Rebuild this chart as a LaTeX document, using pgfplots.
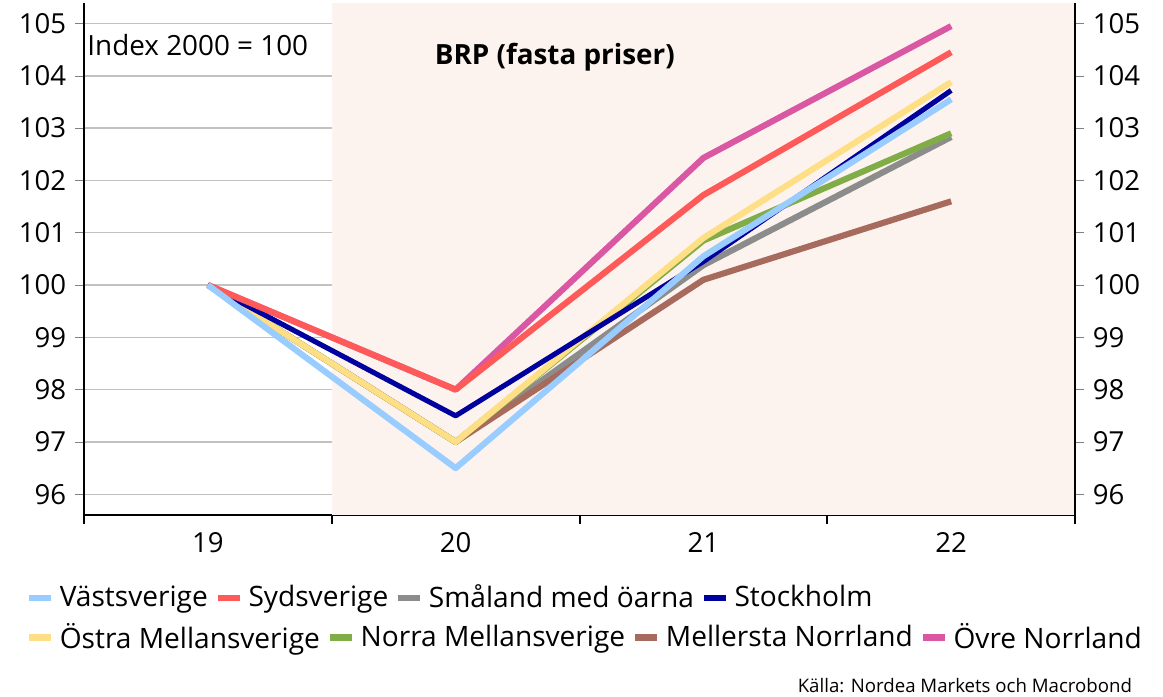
\documentclass[border=0pt]{standalone}
\usepackage{fontspec}
\setmainfont{Open Sans}
\usepackage{pgfplots}
\pgfplotsset{compat=1.18}

\definecolor{vast}{HTML}{99CCFF}
\definecolor{syd}{HTML}{FF5A5A}
\definecolor{smal}{HTML}{8C8C8C}
\definecolor{sthlm}{HTML}{00009E}
\definecolor{ostra}{HTML}{FFDF85}
\definecolor{norra}{HTML}{80AD47}
\definecolor{mell}{HTML}{A66B5C}
\definecolor{ovre}{HTML}{D957A3}
\definecolor{shade}{HTML}{FDF3EE}
\definecolor{gridc}{HTML}{C4C0BE}

\pgfplotsset{
  base/.style={
    scale only axis, width=13.64cm, height=7.045cm,
    xmin=18.5, xmax=22.5, ymin=95.605, ymax=105.39,
    ytick={96,...,105},
    tick align=outside, major tick length=0.12cm,
    /pgf/number format/assume math mode=true,
    tick label style={font=\fontsize{10.8}{13}\selectfont},
    axis line style={line width=0.8pt},
    legend columns=-1,
    legend style={draw=none, fill=none, inner sep=0pt,
      font=\fontsize{11}{13}\selectfont,
      /tikz/every even column/.append style={column sep=0.5pt}},
    legend cell align=left,
    legend image code/.code={\draw[##1, line width=2.6pt] (0cm,0cm) -- (0.31cm,0cm);},
  },
  ser/.style={line width=2.4pt, line join=round, forget plot},
}

\begin{document}
\begin{tikzpicture}
\begin{axis}[base,
  axis x line*=bottom, axis y line*=left,
  xtick={19,20,21,22}, xticklabels={19,20,21,22},
  xtick style={draw=none},
  minor xtick={18.5,19.5,20.5,21.5,22.5},
  minor tick length=0.12cm,
  minor x tick style={draw=black, line width=0.8pt},
  ymajorgrids, grid style={gridc, line width=0.6pt},
  legend style={at={(-0.0595,-0.162)}, anchor=west},
]
\addplot[fill=shade, draw=none, forget plot] coordinates {(19.5,95.605) (22.5,95.605) (22.5,105.39) (19.5,105.39)} \closedcycle;
\addplot[ser, ovre]  coordinates {(19,100) (20,98.0) (21,102.43) (22,104.95)};
\addplot[ser, smal]  coordinates {(19,100) (20,97.0) (21,100.38) (22,102.83)};
\addplot[ser, mell]  coordinates {(19,100) (20,97.0) (21,100.10) (22,101.60)};
\addplot[ser, norra] coordinates {(19,100) (20,97.0) (21,100.85) (22,102.90)};
\addplot[ser, ostra] coordinates {(19,100) (20,97.0) (21,100.90) (22,103.88)};
\addplot[ser, sthlm, line width=2.0pt] coordinates {(19,100) (20,97.5) (21,100.45) (22,103.72)};
\addplot[ser, syd]   coordinates {(19,100) (20,98.0) (21,101.72) (22,104.45)};
\addplot[ser, vast]  coordinates {(19,100) (20,96.5) (21,100.55) (22,103.55)};
\addlegendimage{vast}\addlegendentry{Västsverige}
\addlegendimage{syd}\addlegendentry{Sydsverige}
\addlegendimage{smal}\addlegendentry{Småland med öarna}
\addlegendimage{sthlm}\addlegendentry{Stockholm}
\node[anchor=west, font=\fontsize{10.9}{13}\selectfont, inner sep=0pt] at (rel axis cs:0.003,0.918) {Index 2000 = 100};
\node[font=\fontsize{10.9}{13}\selectfont\bfseries] at (rel axis cs:0.475,0.895) {BRP (fasta priser)};
\end{axis}
\begin{axis}[base,
  axis x line=none, axis y line*=right,
  legend style={at={(-0.0595,-0.240)}, anchor=west},
]
\addlegendimage{ostra}\addlegendentry{Östra Mellansverige}
\addlegendimage{norra}\addlegendentry{Norra Mellansverige}
\addlegendimage{mell}\addlegendentry{Mellersta Norrland}
\addlegendimage{ovre}\addlegendentry{Övre Norrland}
\end{axis}
\node[anchor=base east, font=\fontsize{7.3}{9}\selectfont, inner sep=0pt] at (14.43cm,-2.44cm) {Källa: Nordea Markets och Macrobond};
\pgfresetboundingbox
\path (-1.156cm,-2.504cm) rectangle (14.85cm,7.087cm);
\end{tikzpicture}
\end{document}
